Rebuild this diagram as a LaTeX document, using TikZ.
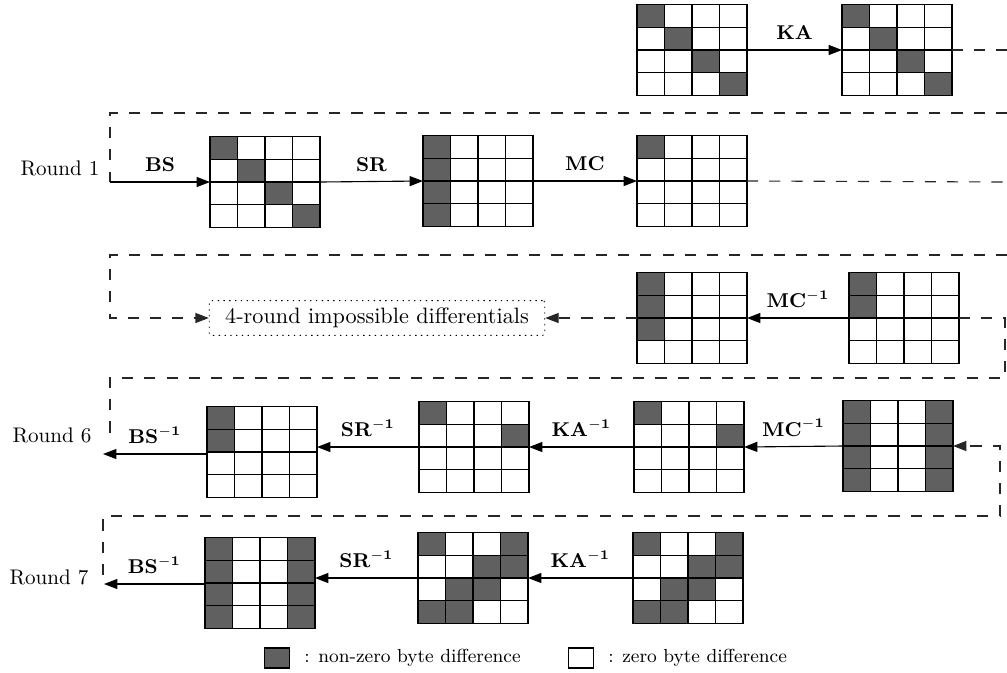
\documentclass[tikz,border=0pt]{standalone}
\usetikzlibrary{arrows.meta,positioning,calc}
\definecolor{dk}{HTML}{606060}
\newcommand{\stmat}[3]{%
  \node[st](#1) at (#2) {};
  \foreach \c/\r in {#3} {\fill[dk] ($(#1.north west)+(\c*27.5,\r*22.75)$) rectangle +(27.5,22.75);}
  \foreach \i in {1,2,3} {\draw[gl] ($(#1.north west)+(\i*27.5,0)$) -- +(0,91);
    \draw[gl] ($(#1.north west)+(0,\i*22.75)$) -- +(110,0);}
  \draw[gl] (#1.north west) rectangle (#1.south east);}
\begin{document}
\begin{tikzpicture}[x=0.45pt,y=-0.45pt,
st/.style={minimum width=49.5pt,minimum height=40.95pt,inner sep=0pt,outer sep=0pt},
gl/.style={line width=0.6pt},
arr/.style={-{Triangle[length=6pt,width=4.5pt]},line width=0.5pt},
dsh/.style={dash pattern=on 5pt off 5pt,line width=0.5pt,black!85},
dtip/.style={-{Triangle[length=6pt,width=4.5pt]}},
lbl/.style={font=\fontsize{9}{10}\selectfont\bfseries,above=1pt},
rnd/.style={font=\fontsize{9.5}{11}\selectfont},
idb/.style={draw,dash pattern=on 0.6pt off 2pt,rounded corners=1pt,minimum width=151pt,minimum height=14pt,font=\fontsize{10}{12}\selectfont},
lg/.style={draw,line width=0.5pt,minimum width=11pt,minimum height=9pt,inner sep=0pt},
lgt/.style={font=\fontsize{8.5}{10}\selectfont}]
\useasboundingbox (0,0) rectangle (1007,672);
% top row
\stmat{A}{692,50}{0/0,1/1,2/2,3/3}
\stmat{B}{897,50}{0/0,1/1,2/2,3/3}
\draw[arr](A.east)--(B.west) node[lbl,midway]{KA};
\coordinate (b1) at (1007,50);
\draw[dsh](B.east)--(b1);
% round 1
\stmat{C}{265,182}{0/0,1/1,2/2,3/3}
\stmat{D}{478,181}{0/0,0/1,0/2,0/3}
\stmat{E}{692,181}{0/0}
\node[rnd](r1) at (60,168){Round 1};
\coordinate (t1r) at (1007,113);\coordinate (t1l) at (110,113);\coordinate (i1) at (110,182);
\draw[dsh](t1r)--(t1l)--(i1);
\draw[arr](i1)--(C.west) node[lbl,midway]{BS};
\draw[arr](C.east)--(D.west) node[lbl,midway]{SR};
\draw[arr](D.east)--(E.west) node[lbl,midway]{MC};
\coordinate (e1) at (1007,182);
\draw[dsh](E.east)--(e1);
% impossible differentials
\stmat{F}{692,318}{0/0,0/1,0/2}
\stmat{G}{904,318}{0/0,0/1}
\node[idb](ID) at (377,318){4-round impossible differentials};
\coordinate (t2r) at (1007,255);\coordinate (t2l) at (110,255);\coordinate (i2) at (110,318);
\draw[dsh,dtip](t2r)--(t2l)--(i2)--(ID.west);
\draw[dsh,dtip](F.west)--(ID.east);
\draw[arr](G.west)--(F.east) node[lbl,midway]{MC$^{\mathbf{-1}}$};
% round 6
\stmat{K}{262,452}{0/0,0/1}
\stmat{L}{474,447}{0/0,3/1}
\stmat{M}{689,447}{0/0,3/1}
\stmat{J}{898,446}{0/0,0/1,0/2,0/3,3/0,3/1,3/2,3/3}
\node[rnd](r6) at (52,435){Round 6};
\coordinate (g2) at (1005,318);\coordinate (t3r) at (1005,378);\coordinate (t3l) at (110,378);\coordinate (o3) at (110,442);
\draw[dsh](G.east)--(g2)--(t3r)--(t3l)--(o3);
\draw[arr](J.west)--(M.east) node[lbl,midway]{MC$^{\mathbf{-1}}$};
\draw[arr](M.west)--(L.east) node[lbl,midway]{KA$^{\mathbf{-1}}$};
\draw[arr](L.west)--(K.east|-L.west) node[lbl,midway]{SR$^{\mathbf{-1}}$};
\coordinate (x3) at (103,454);
\draw[arr](K.west|-x3)--(x3) node[lbl,midway]{BS$^{\mathbf{-1}}$};
% round 7
\stmat{N}{260,583}{0/0,0/1,0/2,0/3,3/0,3/1,3/2,3/3}
\stmat{O}{473,578}{0/0,3/0,2/1,3/1,1/2,2/2,0/3,1/3}
\stmat{P}{688,578}{0/0,3/0,2/1,3/1,1/2,2/2,0/3,1/3}
\node[rnd](r7) at (49,577){Round 7};
\coordinate (j3) at (1000,446);\coordinate (t4r) at (1000,516);\coordinate (t4l) at (103,516);\coordinate (o4) at (103,575);
\draw[dsh,dtip](o4)--(t4l)--(t4r)--(j3)--(J.east);
\draw[arr](P.west)--(O.east) node[lbl,midway]{KA$^{\mathbf{-1}}$};
\draw[arr](O.west)--(N.east|-O.west) node[lbl,midway]{SR$^{\mathbf{-1}}$};
\coordinate (x4) at (104,584);
\draw[arr](N.west|-x4)--(x4) node[lbl,midway]{BS$^{\mathbf{-1}}$};
% legend
\node[lg,fill=dk](ln) at (277,658){};
\node[lgt,right=3pt of ln](lnt){: non-zero byte difference};
\node[lg](lz) at (581,658){};
\node[lgt,right=3pt of lz](lzt){: zero byte difference};
\end{tikzpicture}
\end{document}
